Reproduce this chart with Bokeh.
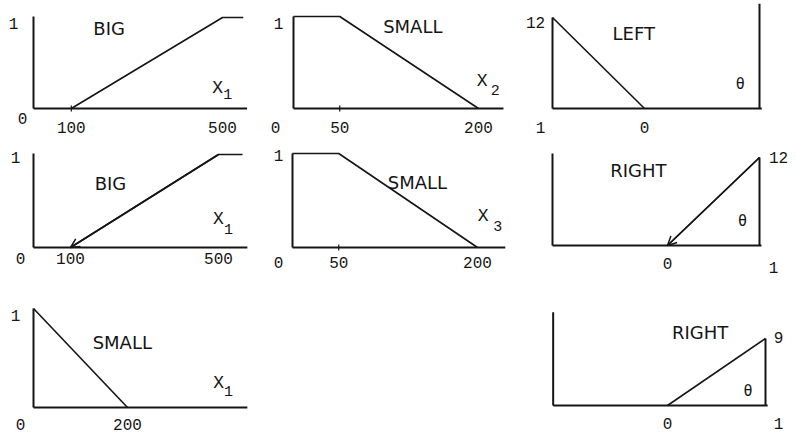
import numpy as np
from bokeh.plotting import figure
from bokeh.layouts import column, row
from bokeh.models import Range1d, Arrow, OpenHead, Spacer
from bokeh.core.properties import value
from bokeh.embed import file_html
from bokeh.resources import INLINE

# ---------------- data (membership functions) ----------------
big_x1_x = [100, 500, 555]
big_x1_mu = [0, 1, 1]
small_x2_x = [0, 50, 200]
small_x2_mu = [1, 1, 0]
left_theta = [-12, 0]
left_mu = [1, 0]
big_x1b_x = [100, 500, 565]
big_x1b_mu = [0, 1, 1]
small_x3_x = [0, 50, 200]
small_x3_mu = [1, 1, 0]
right_theta = [0, 12]
right_mu = [0, 1]
small_x1_x = [0, 200]
small_x1_mu = [1, 0]
right9_theta = [0, 9]
right9_mu = [0, 1]

# tick labels
big_ticks = [100, 500]
big_tick_labels = ["100", "500"]
small_ticks = [50, 200]
small_tick_labels = ["50", "200"]
theta_ticks = [0]
theta_tick_labels = ["0"]
small1_ticks = [200]
small1_tick_labels = ["200"]

INK = "#151515"
NUM_FONT = value("Liberation Mono")
NAME_FONT = value("DejaVu Sans")

# ---------------- layout / style spec (cells in page pixels) ----------------
panels = [
    dict(cell=(0, 0, 265, 140), xa=(0, 33, 500, 222), ya=(0, 108, 1, 17),
         xs=big_x1_x, ys=big_x1_mu, axis_x=(0, 565), axis_y=(0, 1.01), right=None,
         name="BIG", name_xy=(200, 0.88), var="X", sub="1", var_xy=(487, 0.23), sub_xy=(514, 0.16),
         ticks=big_ticks, tick_labels=big_tick_labels, tick_dy=19,
         corner=[("1", 0, 1, -20, 6), ("0", 0, 0, -11, 10)], marks=[100], arrow=None),
    dict(cell=(265, 0, 255, 140), xa=(0, 293, 200, 478), ya=(0, 108, 1, 16),
         xs=small_x2_x, ys=small_x2_mu, axis_x=(0, 227), axis_y=(0, 1.0), right=None,
         name="SMALL", name_xy=(129, 0.89), var="X", sub="2", var_xy=(204, 0.30), sub_xy=(218, 0.196),
         ticks=small_ticks, tick_labels=small_tick_labels, tick_dy=19,
         corner=[("1", 0, 1, -15, 7), ("0", 0, 0, -18, 19)], marks=[50], arrow=None),
    dict(cell=(520, 0, 275, 140), xa=(-12, 552, 0, 644), ya=(0, 108, 1, 17),
         xs=left_theta, ys=left_mu, axis_x=(-12, 15.3), axis_y=(0, 1.0), right=(15, 1.15),
         name="LEFT", name_xy=(-1.4, 0.82), var="θ", sub=None, var_xy=(12.5, 0.27), sub_xy=None,
         ticks=theta_ticks, tick_labels=theta_tick_labels, tick_dy=19,
         corner=[("12", -12, 1, -17, 5), ("1", -12, 0, -12, 19)], marks=[], arrow=None),
    dict(cell=(0, 140, 265, 150), xa=(0, 33, 500, 218), ya=(0, 247, 1, 154),
         xs=big_x1b_x, ys=big_x1b_mu, axis_x=(0, 578), axis_y=(0, 1.01), right=None,
         name="BIG", name_xy=(208, 0.69), var="X", sub="1", var_xy=(500, 0.31), sub_xy=(527, 0.20),
         ticks=big_ticks, tick_labels=big_tick_labels, tick_dy=11,
         corner=[("1", 0, 1, -18, 3), ("0", 0, 0, -13, 11)], marks=[], arrow=(1, 0)),
    dict(cell=(265, 140, 255, 150), xa=(0, 292, 200, 477), ya=(0, 247, 1, 153),
         xs=small_x3_x, ys=small_x3_mu, axis_x=(0, 230), axis_y=(0, 1.0), right=None,
         name="SMALL", name_xy=(135, 0.69), var="X", sub="3", var_xy=(206, 0.34), sub_xy=(222, 0.23),
         ticks=small_ticks, tick_labels=small_tick_labels, tick_dy=15,
         corner=[("1", 0, 1, -14, 2), ("0", 0, 0, -14, 15)], marks=[50], arrow=None),
    dict(cell=(520, 140, 275, 150), xa=(0, 667, 12, 759), ya=(0, 245, 1, 157),
         xs=right_theta, ys=right_mu, axis_x=(-15, 12.26), axis_y=(0, 1.045), right=(12, 1.0),
         name="RIGHT", name_xy=(-3.8, 0.85), var="θ", sub=None, var_xy=(9.8, 0.28), sub_xy=None,
         ticks=theta_ticks, tick_labels=theta_tick_labels, tick_dy=18,
         corner=[("12", 12, 1, 19, 0), ("1", 12, 0, 14, 22)], marks=[], arrow=(1, 0)),
    dict(cell=(0, 290, 265, 147), xa=(0, 33, 200, 127), ya=(0, 407, 1, 308),
         xs=small_x1_x, ys=small_x1_mu, axis_x=(0, 455), axis_y=(0, 1.0), right=None,
         name="SMALL", name_xy=(189, 0.66), var="X", sub="1", var_xy=(394, 0.25), sub_xy=(415, 0.17),
         ticks=small1_ticks, tick_labels=small1_tick_labels, tick_dy=17,
         corner=[("1", 0, 1, -18, 7), ("0", 0, 0, -13, 17)], marks=[], arrow=None),
    dict(cell=(520, 290, 275, 147), xa=(0, 667, 9, 765), ya=(0, 405, 1, 338),
         xs=right9_theta, ys=right9_mu, axis_x=(-10.5, 9.2), axis_y=(0, 1.39), right=(9, 1.0),
         name="RIGHT", name_xy=(3.0, 1.09), var="θ", sub=None, var_xy=(7.4, 0.22), sub_xy=None,
         ticks=theta_ticks, tick_labels=theta_tick_labels, tick_dy=18,
         corner=[("9", 9, 1, 13, -1), ("1", 9, 0, 13, 18)], marks=[], arrow=None),
]


def rng(d0, s0, d1, s1, lo, hi):
    k = (d1 - d0) / (s1 - s0)
    return Range1d(d0 + (lo - s0) * k, d0 + (hi - s0) * k)


def make_panel(sp):
    left, top, w, h = sp["cell"]
    p = figure(width=w, height=h,
               x_range=rng(*sp["xa"], left, left + w),
               y_range=rng(*sp["ya"], top + h, top),
               x_axis_type=None, y_axis_type=None,
               toolbar_location=None, output_backend="svg",
               min_border=0, outline_line_color=None,
               background_fill_color="white", border_fill_color="white")
    ax0, ax1 = sp["axis_x"]
    ay0, ay1 = sp["axis_y"]
    # axes (L shape)
    p.line([ax0, ax1], [0, 0], line_color=INK, line_width=2)
    p.line([ax0, ax0], [ay0, ay1], line_color=INK, line_width=2)
    if sp["right"] is not None:
        rx, ry = sp["right"]
        p.line([rx, rx], [0, ry], line_color=INK, line_width=2)
    # membership function
    p.line(sp["xs"], sp["ys"], line_color=INK, line_width=1.6)
    if sp["arrow"] is not None:
        i_from, i_to = sp["arrow"]
        p.add_layout(Arrow(end=OpenHead(size=9, line_width=1.5, line_color=INK),
                           x_start=sp["xs"][i_from], y_start=sp["ys"][i_from],
                           x_end=sp["xs"][i_to], y_end=sp["ys"][i_to],
                           line_color=INK, line_width=1.6))
    if sp["marks"]:
        p.scatter(sp["marks"], [0] * len(sp["marks"]), marker="dash", angle=np.pi / 2,
                  size=6, line_color=INK, line_width=1.2)
    # tick labels on the x axis
    p.text(sp["ticks"], [0] * len(sp["ticks"]), text=sp["tick_labels"],
           y_offset=sp["tick_dy"], text_align="center", text_baseline="middle",
           text_font=NUM_FONT, text_font_size=value("16px"), text_color=INK)
    # corner labels
    for t, cx, cy, dx, dy in sp["corner"]:
        p.text([cx], [cy], text=[t], x_offset=dx, y_offset=dy,
               text_align="center", text_baseline="middle",
               text_font=NUM_FONT, text_font_size=value("16px"), text_color=INK)
    # set name
    nx, ny = sp["name_xy"]
    p.text([nx], [ny], text=[sp["name"]], text_align="center", text_baseline="middle",
           text_font=NAME_FONT, text_font_size=value("18px"), text_color=INK)
    # variable name
    vx, vy = sp["var_xy"]
    if sp["var"] == "θ":
        p.text([vx], [vy], text=[sp["var"]], text_align="center", text_baseline="middle",
               text_font=value("DejaVu Sans Mono"), text_font_size=value("15px"), text_color=INK)
    else:
        p.text([vx], [vy], text=[sp["var"]], text_align="center", text_baseline="middle",
               text_font=NUM_FONT, text_font_size=value("18px"), text_color=INK)
    if sp["sub"] is not None:
        sx, sy = sp["sub_xy"]
        p.text([sx], [sy], text=[sp["sub"]], text_align="center", text_baseline="middle",
               text_font=NUM_FONT, text_font_size=value("15px"), text_color=INK)
    return p


figs = [make_panel(sp) for sp in panels]
layout = column(
    row(figs[0], figs[1], figs[2]),
    row(figs[3], figs[4], figs[5]),
    row(figs[6], Spacer(width=255, height=147), figs[7]),
)

open("out.html", "w").write(file_html(layout, INLINE))
